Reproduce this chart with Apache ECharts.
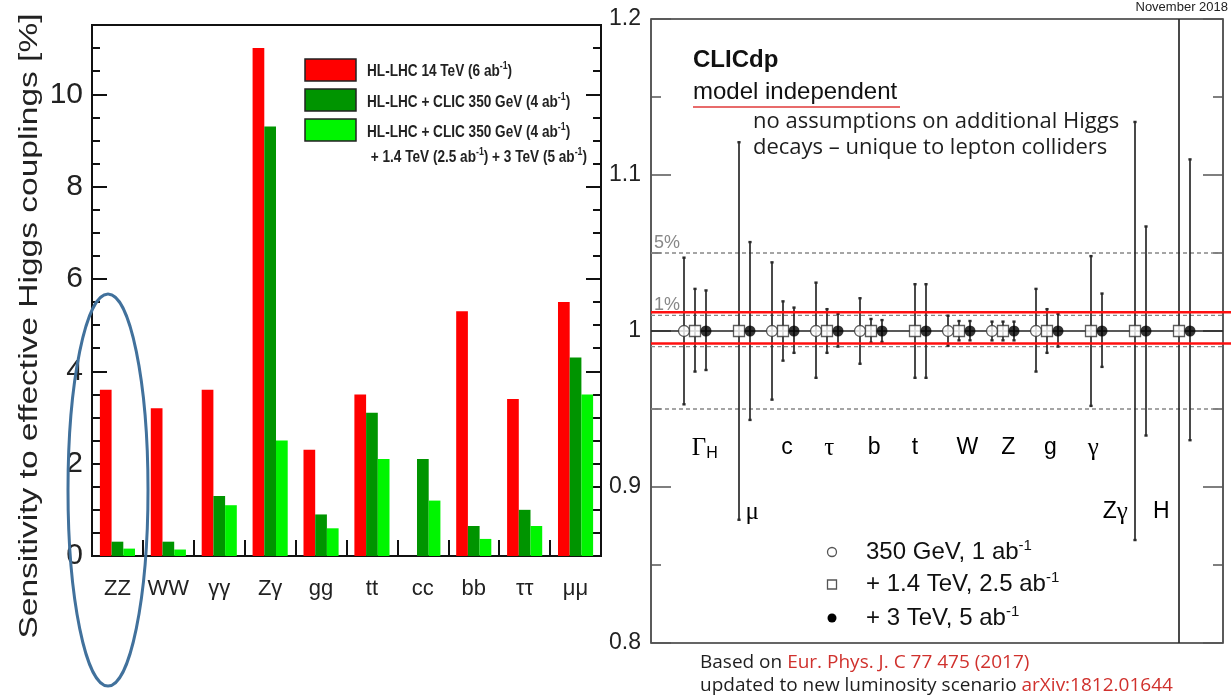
<!DOCTYPE html>
<html>
<head>
<meta charset="utf-8">
<script src="https://cdn.jsdelivr.net/npm/echarts@6/dist/echarts.min.js"></script>
<style>
  html, body { margin: 0; padding: 0; background: #fff; }
  #main { width: 1231px; height: 698px; }
</style>
</head>
<body>
<div id="main"></div>
<script>
// ---- Left panel: sensitivity to effective Higgs couplings [%] ----
const couplingLabels = ['ZZ', 'WW', 'γγ', 'Zγ', 'gg', 'tt', 'cc', 'bb', 'ττ', 'μμ'];
const hlLhc = [3.6, 3.2, 3.6, 11.0, 2.3, 3.5, null, 5.3, 3.4, 5.5];
const hlLhcClic350 = [0.31, 0.31, 1.3, 9.3, 0.9, 3.1, 2.1, 0.65, 1.0, 4.3];
const hlLhcClicAll = [0.16, 0.14, 1.1, 2.5, 0.6, 2.1, 1.2, 0.37, 0.65, 3.5];
const leftTicks = [0, 2, 4, 6, 8, 10];

// ---- Right panel: CLICdp model-independent fit, relative uncertainties around 1 ----
const fitParams = ['ΓH', 'μ', 'c', 'τ', 'b', 't', 'W', 'Z', 'g', 'γ', 'Zγ', 'H'];
const centralValue = [1, 1, 1, 1, 1, 1, 1, 1, 1, 1, 1, 1];
// 350 GeV, 1 ab-1
const stage1Up   = [0.047, null, 0.044, 0.031, 0.021, null, 0.0098, 0.006, 0.027, null, null, null];
const stage1Down = [0.047, null, 0.044, 0.030, 0.021, null, 0.0094, 0.006, 0.026, null, null, null];
// + 1.4 TeV, 2.5 ab-1
const stage2Up   = [0.027, 0.121, 0.019, 0.014, 0.0077, 0.030, 0.0064, 0.006, 0.014, 0.048, 0.134, 0.25];
const stage2Down = [0.026, 0.121, 0.019, 0.014, 0.0075, 0.030, 0.0060, 0.006, 0.014, 0.048, 0.134, 0.25];
// + 3 TeV, 5 ab-1
const stage3Up   = [0.026, 0.057, 0.015, 0.011, 0.007, 0.030, 0.0064, 0.006, 0.011, 0.024, 0.067, 0.110];
const stage3Down = [0.025, 0.057, 0.014, 0.010, 0.007, 0.030, 0.0060, 0.006, 0.010, 0.023, 0.067, 0.070];
const precisionLines = [1.05, 1.01, 0.99, 0.95];
const redBand = [1.012, 0.992];

const SANS = "'Liberation Sans', Arial, Helvetica, sans-serif";
const SERIF = "'Liberation Serif', 'DejaVu Serif', serif";
const LIGHT = "'Open Sans', 'Noto Sans', sans-serif";
const INK = '#222';

// label placement for the fit parameters (x in category units, y in axis units)
const paramLabelPos = [
  [0.22, 0.925], [1.30, 0.884], [2.09, 0.925], [3.05, 0.925], [4.07, 0.925], [5.0, 0.925],
  [6.19, 0.925], [7.12, 0.925], [8.08, 0.925], [9.05, 0.925], [9.55, 0.884], [10.6, 0.884]
];
const stageOffset = [-0.25, 0, 0.25];

function errData(up, down, k) {
  const out = [];
  for (let i = 0; i < centralValue.length; i++) {
    if (up[i] == null) continue;
    out.push([i + stageOffset[k], centralValue[i] - down[i], centralValue[i] + up[i]]);
  }
  return out;
}
function pointData(up, k) {
  const out = [];
  for (let i = 0; i < centralValue.length; i++) {
    if (up[i] == null) continue;
    out.push([i + stageOffset[k], centralValue[i]]);
  }
  return out;
}

function renderErrorBar(params, api) {
  const x = api.value(0);
  const lo = api.coord([x, api.value(1)]);
  const hi = api.coord([x, api.value(2)]);
  const c = 1.6;
  const st = { stroke: '#2a2a2a', lineWidth: 1.7 };
  return {
    type: 'group',
    children: [
      { type: 'line', shape: { x1: hi[0], y1: hi[1], x2: lo[0], y2: lo[1] }, style: st },
      { type: 'line', shape: { x1: hi[0] - c, y1: hi[1], x2: hi[0] + c, y2: hi[1] }, style: { stroke: '#2a2a2a', lineWidth: 2.4 } },
      { type: 'line', shape: { x1: lo[0] - c, y1: lo[1], x2: lo[0] + c, y2: lo[1] }, style: { stroke: '#2a2a2a', lineWidth: 2.4 } }
    ]
  };
}

function errorSeries(up, down, k) {
  return {
    type: 'custom', xAxisIndex: 1, yAxisIndex: 4, clip: true, z: 4,
    data: errData(up, down, k), renderItem: renderErrorBar, silent: true
  };
}

const markerStyles = [
  { symbol: 'circle', itemStyle: { color: '#fff', borderColor: '#333', borderWidth: 1.3 } },
  { symbol: 'rect', itemStyle: { color: '#fff', borderColor: '#333', borderWidth: 1.3 } },
  { symbol: 'circle', itemStyle: { color: '#000', borderColor: '#000', borderWidth: 0 } }
];
function pointSeries(up, k) {
  return Object.assign({
    type: 'scatter', xAxisIndex: 1, yAxisIndex: 4, symbolSize: 11, z: 8,
    data: pointData(up, k), silent: true
  }, markerStyles[k]);
}

// horizontal reference lines spanning the right frame
function refLineSeries(values, style, extraRight, z) {
  return {
    type: 'custom', xAxisIndex: 1, yAxisIndex: 4, clip: false, z: z, silent: true,
    data: values.map(v => [0, v]),
    renderItem(params, api) {
      const cs = params.coordSys;
      const y = api.coord([0, api.value(1)])[1];
      return { type: 'line', shape: { x1: cs.x, y1: y, x2: cs.x + cs.width + extraRight, y2: y }, style: style };
    }
  };
}

const leftTickStyle = { color: '#111', width: 2 };
function leftYAxis(position, interval, tickLen, withLabels) {
  return {
    gridIndex: 0, type: 'value', min: 0, max: 11.5, position: position, interval: interval,
    axisLine: { show: false, onZero: false }, splitLine: { show: false },
    axisTick: { show: true, inside: true, length: tickLen, lineStyle: leftTickStyle },
    axisLabel: withLabels
      ? { show: true, margin: 9, color: INK, fontSize: 30, fontFamily: SANS, showMaxLabel: false,
          formatter: v => (leftTicks.indexOf(v) >= 0 ? String(v) : '') }
      : { show: false }
  };
}
function rightYAxis(position, withLabels) {
  return {
    gridIndex: 1, type: 'value', min: 0.8, max: 1.2, interval: 0.1, position: position,
    axisLine: { show: false, onZero: false }, splitLine: { show: false },
    axisTick: { show: true, inside: true, length: 20, lineStyle: { color: '#555', width: 1.5 } },
    minorTick: { show: true, splitNumber: 2, length: 10, lineStyle: { color: '#555', width: 1.5 } },
    axisLabel: withLabels
      ? { show: true, margin: 10, color: INK, fontSize: 23, fontFamily: SANS,
          formatter: v => String(Math.round(v * 10) / 10) }
      : { show: false }
  };
}

const legendRich = {
  a: { font: 'bold 17px ' + SANS, fill: INK },
  u: { font: 'bold 11px ' + SANS, fill: INK, padding: [0, 0, 10, 0] }
};
function legendText(y, text) {
  return { type: 'text', x: 367, y: y, scaleX: 0.8,
    style: { text: text, verticalAlign: 'middle', rich: legendRich } };
}
const stageRich = {
  a: { font: '24px ' + SANS, fill: '#111' },
  u: { font: '15px ' + SANS, fill: '#111', padding: [0, 0, 13, 0] }
};
const noteRich = {
  k: { font: '19px ' + LIGHT, fill: '#1e1e1e' },
  r: { font: '19px ' + LIGHT, fill: '#d0312d' }
};

const option = {
  animation: false,
  backgroundColor: '#fff',
  grid: [
    { left: 92, top: 25, width: 509, height: 531, show: true, borderColor: '#111', borderWidth: 2, backgroundColor: 'transparent' },
    { left: 651, top: 19, width: 572, height: 624, show: true, borderColor: '#333', borderWidth: 1.6, backgroundColor: 'transparent' }
  ],
  xAxis: [
    {
      gridIndex: 0, type: 'category', data: couplingLabels, position: 'bottom',
      axisLine: { show: true, onZero: false, lineStyle: { color: '#111', width: 2 } },
      axisTick: { show: true, inside: true, length: 16, alignWithLabel: false, interval: 0, lineStyle: { color: '#111', width: 2 } },
      axisLabel: { show: true, interval: 0, margin: 22, color: INK, fontSize: 22, fontFamily: SANS }
    },
    {
      gridIndex: 1, type: 'value', min: -1, max: 12, show: false
    }
  ],
  yAxis: [
    leftYAxis('left', 2, 15, true),
    leftYAxis('left', 0.5, 8, false),
    leftYAxis('right', 2, 15, false),
    leftYAxis('right', 0.5, 8, false),
    rightYAxis('left', true),
    rightYAxis('right', false)
  ],
  series: [
    { type: 'bar', name: 'HL-LHC 14 TeV', xAxisIndex: 0, yAxisIndex: 0, data: hlLhc,
      itemStyle: { color: '#ff0000' }, barGap: '0%', barCategoryGap: '31%' },
    { type: 'bar', name: 'HL-LHC + CLIC 350 GeV', xAxisIndex: 0, yAxisIndex: 0, data: hlLhcClic350,
      itemStyle: { color: '#009400' }, barGap: '0%', barCategoryGap: '31%' },
    { type: 'bar', name: 'HL-LHC + CLIC all stages', xAxisIndex: 0, yAxisIndex: 0, data: hlLhcClicAll,
      itemStyle: { color: '#00f500' }, barGap: '0%', barCategoryGap: '31%' },

    refLineSeries(precisionLines, { stroke: '#888', lineWidth: 1.4, lineDash: [4, 3] }, 0, 2),
    refLineSeries([1], { stroke: '#222', lineWidth: 1.6 }, 0, 3),
    errorSeries(stage1Up, stage1Down, 0),
    errorSeries(stage2Up, stage2Down, 1),
    errorSeries(stage3Up, stage3Down, 2),
    refLineSeries(redBand, { stroke: '#ff1010', lineWidth: 2.6 }, 9, 6),
    pointSeries(stage1Up, 0),
    pointSeries(stage2Up, 1),
    pointSeries(stage3Up, 2),
    // parameter names inside the right frame
    {
      type: 'custom', xAxisIndex: 1, yAxisIndex: 4, z: 9, silent: true,
      data: fitParams.map((n, i) => [paramLabelPos[i][0], paramLabelPos[i][1], i]),
      renderItem(params, api) {
        const p = api.coord([api.value(0), api.value(1)]);
        const name = fitParams[api.value(2)];
        const rich = {
          s: { fontFamily: SANS, fontSize: 23, color: '#111' },
          g: { fontFamily: SERIF, fontSize: 25, color: '#111' },
          sub: { fontFamily: SANS, fontSize: 16, color: '#111', padding: [12, 0, 0, 0] }
        };
        let text;
        if (name === 'ΓH') text = '{g|Γ}{sub|H}';
        else if (name === 'Zγ') text = '{s|Z}{g|γ}';
        else if (/[μτγ]/.test(name)) text = '{g|' + name + '}';
        else text = '{s|' + name + '}';
        return { type: 'text', x: p[0], y: p[1],
          style: { text: text, rich: rich, align: 'center', verticalAlign: 'middle' } };
      }
    }
  ],
  graphic: [
    // left axis title
    { type: 'text', x: 30, y: 326, rotation: Math.PI / 2, scaleX: 1.34,
      style: { text: 'Sensitivity to effective Higgs couplings [%]', font: '25px ' + SANS, fill: INK,
        align: 'center', verticalAlign: 'middle' } },
    // left legend
    { type: 'rect', shape: { x: 305, y: 59, width: 51, height: 22 }, style: { fill: '#ff0000', stroke: '#222', lineWidth: 1.5 } },
    { type: 'rect', shape: { x: 305, y: 89, width: 51, height: 22 }, style: { fill: '#009400', stroke: '#222', lineWidth: 1.5 } },
    { type: 'rect', shape: { x: 305, y: 119, width: 51, height: 22 }, style: { fill: '#00f500', stroke: '#222', lineWidth: 1.5 } },
    legendText(71, '{a|HL-LHC 14 TeV (6 ab}{u|-1}{a|)}'),
    legendText(102, '{a|HL-LHC + CLIC 350 GeV (4 ab}{u|-1}{a|)}'),
    legendText(132, '{a|HL-LHC + CLIC 350 GeV (4 ab}{u|-1}{a|)}'),
    legendText(157, '{a| + 1.4 TeV (2.5 ab}{u|-1}{a|) + 3 TeV (5 ab}{u|-1}{a|)}'),
    // highlight around the ZZ group
    { type: 'ellipse', shape: { cx: 108, cy: 490, rx: 40, ry: 196 }, z: 20,
      style: { fill: 'none', stroke: '#41719c', lineWidth: 3 } },

    // right panel header texts
    { type: 'text', x: 1228, y: 7, style: { text: 'November 2018', font: '13px ' + SANS, fill: INK, align: 'right', verticalAlign: 'middle' } },
    { type: 'text', x: 693, y: 60, style: { text: 'CLICdp', font: 'bold 24px ' + SANS, fill: '#111', verticalAlign: 'middle' } },
    { type: 'text', x: 693, y: 92, style: { text: 'model independent', font: '24px ' + SANS, fill: '#111', verticalAlign: 'middle' } },
    { type: 'line', shape: { x1: 693, y1: 107, x2: 900, y2: 107 }, style: { stroke: '#e03a3a', lineWidth: 1.6 } },
    { type: 'text', x: 753, y: 122, style: { text: 'no assumptions on additional Higgs', font: '22px ' + LIGHT, fill: '#1e1e1e', verticalAlign: 'middle' } },
    { type: 'text', x: 753, y: 148, style: { text: 'decays – unique to lepton colliders', font: '22px ' + LIGHT, fill: '#1e1e1e', verticalAlign: 'middle' } },

    // right panel legend
    { type: 'circle', shape: { cx: 832, cy: 552, r: 4.5 }, style: { fill: '#fff', stroke: '#555', lineWidth: 1.3 } },
    { type: 'rect', shape: { x: 827.5, y: 580, width: 9, height: 9 }, style: { fill: '#fff', stroke: '#555', lineWidth: 1.3 } },
    { type: 'circle', shape: { cx: 832, cy: 618, r: 4.5 }, style: { fill: '#000' } },
    { type: 'text', x: 866, y: 552, style: { text: '{a|350 GeV, 1 ab}{u|-1}', verticalAlign: 'middle', rich: stageRich } },
    { type: 'text', x: 866, y: 584, style: { text: '{a|+ 1.4 TeV, 2.5 ab}{u|-1}', verticalAlign: 'middle', rich: stageRich } },
    { type: 'text', x: 866, y: 618, style: { text: '{a|+ 3 TeV, 5 ab}{u|-1}', verticalAlign: 'middle', rich: stageRich } },
    { type: 'text', x: 654, y: 243, style: { text: '5%', font: '18px ' + SANS, fill: '#888', verticalAlign: 'middle' } },
    { type: 'text', x: 654, y: 305, style: { text: '1%', font: '18px ' + SANS, fill: '#888', verticalAlign: 'middle' } },

    // source notes
    { type: 'text', x: 700, y: 663, style: { text: '{k|Based on }{r|Eur. Phys. J. C 77 475 (2017)}', verticalAlign: 'middle', rich: noteRich } },
    { type: 'text', x: 700, y: 686, style: { text: '{k|updated to new luminosity scenario }{r|arXiv:1812.01644}', verticalAlign: 'middle', rich: noteRich } }
  ]
};

const chart = echarts.init(document.getElementById('main'), null, { renderer: 'canvas' });
chart.setOption(option);
</script>
</body>
</html>
